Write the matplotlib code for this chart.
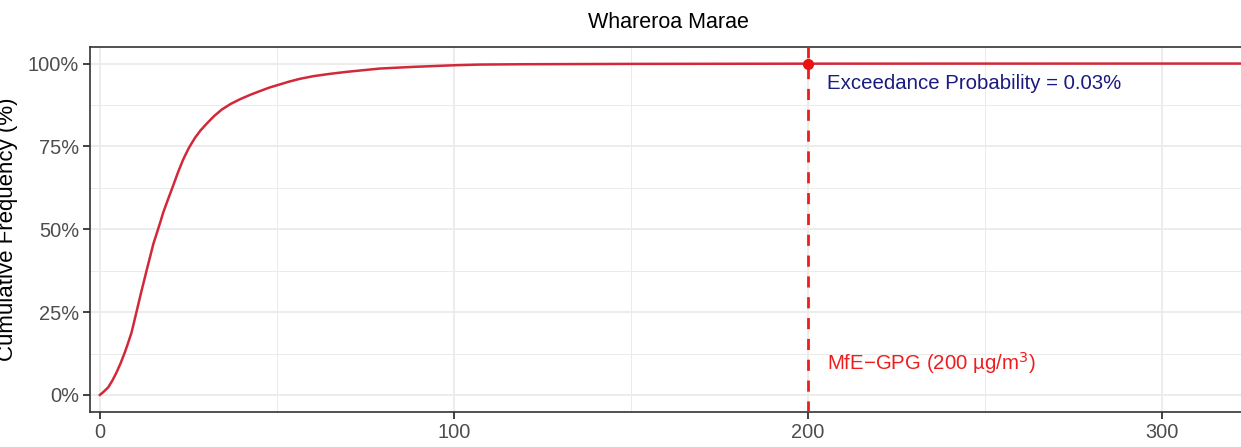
import matplotlib
matplotlib.use('Agg')
import matplotlib.pyplot as plt
from matplotlib.ticker import MultipleLocator, FuncFormatter

plt.rcParams['font.family'] = ['Liberation Sans', 'DejaVu Sans']

# concentração (ug/m3) e frequência acumulada (%)
concentracao = [0, 1, 2.35, 3.5, 4.7, 5.9, 7.06, 8.0, 8.95, 10.3, 11.75, 13.2, 15.1, 16.9,
                17.9, 19.3, 20.7, 22.1, 23.5, 25.1, 26.8, 28.4, 30.1, 32.2, 34.4, 36.9,
                39.5, 42.3, 45.2, 48, 50.8, 53.6, 56.5, 60.3, 65, 69.7, 74.4, 79.1, 88.5,
                100.3, 107.3, 120, 150, 200, 250, 330]
freq_acumulada = [0, 0.9, 2.3, 4.3, 6.8, 9.7, 12.9, 15.8, 18.9, 24.9, 31.4, 37.6, 45.6, 51.6,
                  55.1, 59.2, 63.2, 67.3, 71.0, 74.5, 77.5, 79.8, 81.8, 84.1, 86.1, 87.8,
                  89.2, 90.5, 91.7, 92.8, 93.7, 94.6, 95.4, 96.2, 96.9, 97.5, 98.0, 98.5, 99,
                  99.5, 99.7, 99.8, 99.9, 99.97, 99.99, 100]

titulo = 'Whareroa Marae'
limite = 200
prob_excedencia = 0.03
rotulo_limite = 'MfE\u2212GPG (200 \u00b5g/m$^3$)'

W, H = 1241, 447
fig = plt.figure(figsize=(W / 100, H / 100), dpi=100)
ax = fig.add_axes([90 / W, (H - 411.5) / H, (W - 90) / W, (411.5 - 47) / H])

ax.plot(concentracao, freq_acumulada, color='#d1283a', lw=1.8, zorder=3)
ax.axvline(limite, color='#ee1c1c', lw=2, ls=(0, (4, 3.5)), zorder=4)
ax.plot([limite], [100], 'o', color='#ee1111', ms=7, zorder=5)

ax.text(limite + 5.5, 94, f'Exceedance Probability = {prob_excedencia:.2f}%',
        color='#1a1a80', fontsize=14.7, va='center', ha='left')
ax.text(limite + 5.5, 9.5, rotulo_limite, color='#ee1c1c', fontsize=14.7,
        va='center', ha='left')

ax.set_xlim(-2.8, 322.3)
ax.set_ylim(-5, 105)
ax.xaxis.set_major_locator(MultipleLocator(100))
ax.xaxis.set_minor_locator(MultipleLocator(50))
ax.yaxis.set_major_locator(MultipleLocator(25))
ax.yaxis.set_minor_locator(MultipleLocator(12.5))
ax.yaxis.set_major_formatter(FuncFormatter(lambda v, p: f'{v:.0f}%'))

ax.grid(which='major', color='#ebebeb', lw=1.3)
ax.grid(which='minor', color='#ebebeb', lw=0.7)
ax.set_axisbelow(True)
ax.tick_params(which='major', length=5, width=1.3, color='#333333',
               labelcolor='#4d4d4d', labelsize=14.4, pad=3)
ax.tick_params(which='minor', length=0)
for lado in ['left', 'top', 'bottom']:
    ax.spines[lado].set_color('#333333')
    ax.spines[lado].set_linewidth(1.2)
ax.spines['right'].set_visible(False)

ax.set_ylabel('Cumulative Frequency (%)', fontsize=16, color='black')
ax.yaxis.set_label_coords((18 - 90) / (W - 90), 0.5)
fig.text(668 / W, 1 - 22 / H, titulo, fontsize=15.5, ha='center', va='center')

fig.savefig('out.png', dpi=100)
